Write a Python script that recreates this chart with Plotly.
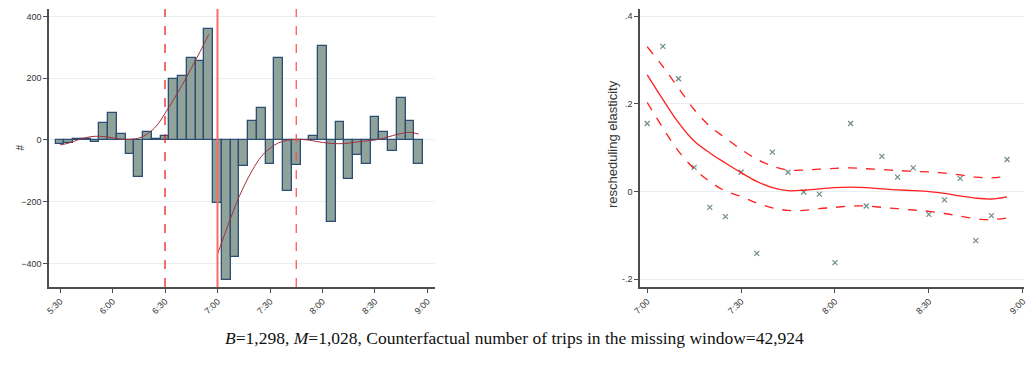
import plotly.graph_objects as go

# ---- left panel: 5-minute bins, residual number of trips ----
bin_labels = ["5:30", "5:35", "5:40", "5:45", "5:50", "5:55",
              "6:00", "6:05", "6:10", "6:15", "6:20", "6:25",
              "6:30", "6:35", "6:40", "6:45", "6:50", "6:55",
              "7:00", "7:05", "7:10", "7:15", "7:20", "7:25",
              "7:30", "7:35", "7:40", "7:45", "7:50", "7:55",
              "8:00", "8:05", "8:10", "8:15", "8:20", "8:25",
              "8:30", "8:35", "8:40", "8:45", "8:50", "8:55"]
trip_counts = [-14, -11, 2, 2, -8, 56,
               86, 19, -46, -121, 25, 2,
               12, 197, 208, 267, 257, 361,
               -204, -454, -379, -85, 62, 103,
               -79, 266, -165, -82, 1, 13,
               305, -266, 57, -127, -50, -79,
               73, 27, -36, 135, 62, -78]

# fitted curve before the window (5:30 - 6:55)
pre_fit_labels = bin_labels[:18]
pre_fit = [-16, -10, 0, 8, 12, 11, 7, 3, 2, 6, 20, 45,
           86, 132, 180, 232, 286, 342]
# fitted curve after the window (7:00 - 8:55)
post_fit_labels = bin_labels[18:]
post_fit = [-370, -292, -216, -151, -97, -54, -27, -9, -1, 2, 1, -3,
            -8, -11, -12, -10, -6, -3, 0, 6, 14, 21, 25, 19]

# window markers: start, cut-off, end
window_start = "6:30"
window_cut = "7:00"
window_end = "7:45"

left_ticks = ["5:30", "6:00", "6:30", "7:00", "7:30", "8:00", "8:30", "9:00"]
left_yticks = [-400, -200, 0, 200, 400]

# ---- right panel: rescheduling elasticity ----
elas_labels = bin_labels[18:]
elasticity = [0.155, 0.331, 0.257, 0.055, -0.036, -0.057, 0.044, -0.141,
              0.090, 0.044, -0.001, -0.006, -0.162, 0.155, -0.033, 0.080,
              0.033, 0.054, -0.052, -0.019, 0.030, -0.112, -0.055, 0.073]
elas_fit = [0.266, 0.210, 0.157, 0.115, 0.088, 0.065, 0.043, 0.023,
            0.009, 0.002, 0.003, 0.006, 0.009, 0.010, 0.009, 0.006,
            0.004, 0.002, 0.000, -0.004, -0.010, -0.015, -0.017, -0.012]
elas_upper = [0.330, 0.285, 0.236, 0.187, 0.149, 0.122, 0.096, 0.074,
              0.058, 0.049, 0.049, 0.051, 0.053, 0.054, 0.052, 0.050,
              0.048, 0.046, 0.045, 0.042, 0.038, 0.033, 0.031, 0.035]
elas_lower = [0.203, 0.145, 0.092, 0.052, 0.023, 0.001, -0.011, -0.026,
              -0.037, -0.043, -0.043, -0.039, -0.036, -0.033, -0.033, -0.036,
              -0.039, -0.042, -0.045, -0.050, -0.056, -0.062, -0.064, -0.060]
right_ticks = ["7:00", "7:30", "8:00", "8:30", "9:00"]
right_yticks = [-0.2, 0, 0.2, 0.4]
right_yticktext = ["-.2", "0", ".2", ".4"]

caption = ("<i>B</i>=1,298, <i>M</i>=1,028, Counterfactual number of trips "
           "in the missing window=42,924")


def minutes(label):
    h, m = label.split(":")
    return int(h) * 60 + int(m)


AXIS = "#4d4d4d"
GRID = "#e8eff1"
TICKFONT = dict(family="Liberation Sans, Arial, sans-serif", size=9, color="#333333")

fig = go.Figure()

# bars
fig.add_trace(go.Bar(
    x=[minutes(t) for t in bin_labels], y=trip_counts, width=5,
    marker=dict(color="#8fa39b", line=dict(color="#2b4e72", width=1.3)),
    xaxis="x", yaxis="y", showlegend=False))

# fitted curves
fig.add_trace(go.Scatter(
    x=[minutes(t) for t in pre_fit_labels], y=pre_fit, mode="lines",
    line=dict(color="#a3303c", width=1, shape="spline"),
    xaxis="x", yaxis="y", showlegend=False))
fig.add_trace(go.Scatter(
    x=[minutes(t) for t in post_fit_labels], y=post_fit, mode="lines",
    line=dict(color="#a3303c", width=1, shape="spline"),
    xaxis="x", yaxis="y", showlegend=False))

# right panel
ex = [minutes(t) for t in elas_labels]
fig.add_trace(go.Scatter(
    x=ex, y=elasticity, mode="markers",
    marker=dict(symbol="x-thin", size=5, line=dict(color="#6d8c85", width=1.2)),
    xaxis="x2", yaxis="y2", showlegend=False))
for ys, dash in ((elas_upper, "dash"), (elas_lower, "dash"), (elas_fit, "solid")):
    fig.add_trace(go.Scatter(
        x=ex, y=ys, mode="lines",
        line=dict(color="#ff1f1f", width=1.3, dash=dash, shape="spline"),
        xaxis="x2", yaxis="y2", showlegend=False))

# vertical window lines
for t, dash, col, w in ((window_start, "dash", "#ee1111", 1.2),
                        (window_cut, "solid", "#ff6a6a", 2),
                        (window_end, "dash", "#ff4a4a", 1.2)):
    fig.add_shape(type="line", xref="x", yref="y domain",
                  x0=minutes(t), x1=minutes(t), y0=0, y1=1,
                  line=dict(color=col, width=w, dash=dash), layer="above")

ydom = [1 - 287 / 370, 1 - 9 / 370]
common_x = dict(showgrid=False, zeroline=False, showline=True, linecolor=AXIS,
                linewidth=1.5, ticks="outside", ticklen=4, tickcolor=AXIS,
                tickangle=-45, tickfont=TICKFONT, automargin=False,
                ticklabeloverflow="allow")
common_y = dict(showgrid=True, gridcolor=GRID, gridwidth=1, zeroline=False,
                showline=True, linecolor=AXIS, linewidth=1.5, ticks="outside",
                ticklen=4, tickcolor=AXIS, tickfont=TICKFONT, automargin=False)

fig.update_layout(
    width=1028, height=370,
    margin=dict(l=0, r=0, t=0, b=0),
    paper_bgcolor="white", plot_bgcolor="white",
    bargap=0,
    xaxis=dict(domain=[49 / 1028, 435 / 1028], range=[323.7, 544.3],
               tickvals=[minutes(t) for t in left_ticks], ticktext=left_ticks,
               anchor="y", **common_x),
    yaxis=dict(domain=ydom, range=[-476.5, 424.6], tickvals=left_yticks,
               anchor="x", **common_y),
    xaxis2=dict(domain=[640 / 1028, 1024 / 1028], range=[417.7, 540.4],
                tickvals=[minutes(t) for t in right_ticks], ticktext=right_ticks,
                anchor="y2", **common_x),
    yaxis2=dict(domain=ydom, range=[-0.2175, 0.416], tickvals=right_yticks,
                ticktext=right_yticktext, anchor="x2", **common_y),
    annotations=[
        dict(text="#", x=12 / 1028, y=1 - 148 / 370, xref="paper", yref="paper",
             showarrow=False, textangle=-90,
             font=dict(family="Liberation Sans, Arial", size=10, color="#333333")),
        dict(text="rescheduling elasticity", x=612 / 1028, y=1 - 144 / 370,
             xref="paper", yref="paper", showarrow=False, textangle=-90,
             font=dict(family="Liberation Sans, Arial", size=13, color="#333333")),
        dict(text=caption, x=0.5, y=1 - 350 / 370, xref="paper", yref="paper",
             showarrow=False,
             font=dict(family="Liberation Serif, Times New Roman, serif", size=17.5,
                       color="#111111")),
    ],
)

fig.write_html("out.html")
